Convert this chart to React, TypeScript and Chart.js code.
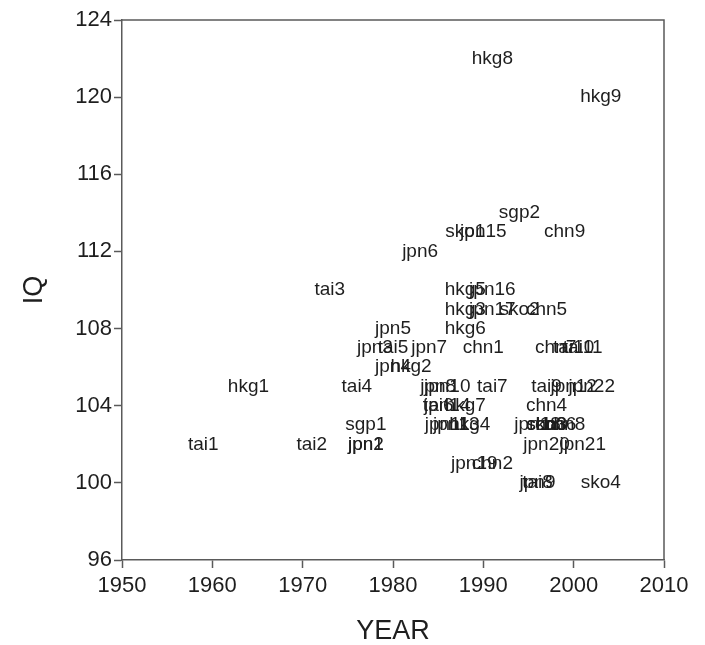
import React, { useEffect, useRef } from 'react';
import { Chart, registerables } from 'chart.js';

Chart.register(...registerables);

// Study labels (country + study number), year of testing and mean IQ
const pointLabels = [
  'tai1', 'hkg1', 'tai2', 'tai3', 'sgp1', 'jpn1', 'jpn2', 'tai4', 'jpn3', 'tai5',
  'jpn4', 'jpn5', 'hkg2', 'jpn6', 'jpn7', 'tai6', 'jpn8', 'jpn10', 'jpn14', 'hkg7',
  'jpn11', 'jpn13', 'hkg4', 'sko1', 'jpn15', 'hkg5', 'jpn16', 'hkg3', 'jpn17', 'hkg6',
  'chn1', 'tai7', 'jpn19', 'chn2', 'hkg8', 'sgp2', 'sko2', 'chn5', 'jpn9', 'tai8',
  'jpn18', 'chn3', 'sko3', 'chn6', 'chn8', 'chn4', 'tai9', 'jpn20', 'chn7', 'tai10',
  'tai11', 'jpn12', 'jpn22', 'jpn21', 'chn9', 'hkg9', 'sko4',
];
const years = [
  1959, 1964, 1971, 1973, 1977, 1977, 1977, 1976, 1978, 1980,
  1980, 1980, 1982, 1983, 1984, 1985, 1985, 1986, 1986, 1988,
  1986, 1987, 1988.5, 1988, 1990, 1988, 1991, 1988, 1991, 1988,
  1990, 1991, 1989, 1991, 1991, 1994, 1994, 1997, 1996, 1996,
  1996, 1997, 1997, 1998, 1999, 1997, 1997, 1997, 1998, 2000,
  2001, 2000, 2002, 2001, 1999, 2003, 2003,
];
const iqs = [
  102, 105, 102, 110, 103, 102, 102, 105, 107, 107,
  106, 108, 106, 112, 107, 104, 105, 105, 104, 104,
  103, 103, 103, 113, 113, 110, 110, 109, 109, 108,
  107, 105, 101, 101, 122, 114, 109, 109, 100, 100,
  103, 103, 103, 103, 103, 104, 105, 102, 107, 107,
  107, 105, 105, 102, 113, 120, 100,
];

const xMin = 1950;
const xMax = 2010;
const xStep = 10;
const yMin = 96;
const yMax = 124;
const yStep = 4;
const xTitle = 'YEAR';
const yTitle = 'IQ';

const AXIS_COLOR = '#5a5a5a';
const TEXT_COLOR = '#1e1e1e';
const FONT_FAMILY = '"Liberation Sans", Arial, Helvetica, sans-serif';

const textLabelPlugin = {
  id: 'textLabels',
  afterDatasetsDraw(chart: any) {
    const ctx = chart.ctx;
    const meta = chart.getDatasetMeta(0);
    ctx.save();
    ctx.font = `19px ${FONT_FAMILY}`;
    ctx.fillStyle = TEXT_COLOR;
    ctx.textAlign = 'center';
    ctx.textBaseline = 'middle';
    meta.data.forEach((pt: any, i: number) => {
      ctx.fillText(pointLabels[i], pt.x, pt.y);
    });
    ctx.restore();
  },
};

const framePlugin = {
  id: 'frame',
  afterDraw(chart: any) {
    const { ctx, chartArea } = chart;
    ctx.save();
    ctx.strokeStyle = AXIS_COLOR;
    ctx.lineWidth = 1.5;
    ctx.beginPath();
    ctx.moveTo(chartArea.left, chartArea.top);
    ctx.lineTo(chartArea.right, chartArea.top);
    ctx.lineTo(chartArea.right, chartArea.bottom);
    ctx.stroke();
    ctx.restore();
  },
};

export default function App() {
  const canvasRef = useRef<HTMLCanvasElement | null>(null);

  useEffect(() => {
    const canvas = canvasRef.current;
    if (!canvas) return;
    const data = years.map((x, i) => ({ x, y: iqs[i] }));
    const chart = new Chart(canvas, {
      type: 'scatter',
      data: {
        datasets: [
          {
            data,
            pointRadius: 0,
            pointHoverRadius: 0,
            backgroundColor: 'transparent',
            borderColor: 'transparent',
          },
        ],
      },
      options: {
        responsive: false,
        animation: false,
        events: [],
        layout: { padding: { top: 20, right: 41, left: 0, bottom: 0 } },
        plugins: {
          legend: { display: false },
          tooltip: { enabled: false },
        },
        scales: {
          x: {
            type: 'linear',
            min: xMin,
            max: xMax,
            afterFit: (scale: any) => {
              scale.height = 85;
            },
            ticks: {
              stepSize: xStep,
              color: TEXT_COLOR,
              font: { size: 22, family: FONT_FAMILY },
              padding: 5,
              maxRotation: 0,
              callback: (v: any) => String(v),
            },
            grid: {
              drawOnChartArea: false,
              tickLength: 8,
              tickColor: AXIS_COLOR,
              tickWidth: 1.5,
            },
            border: { display: true, color: AXIS_COLOR, width: 1.5 },
            title: {
              display: true,
              text: xTitle,
              color: TEXT_COLOR,
              font: { size: 27, family: FONT_FAMILY },
              padding: { top: 0, bottom: -3 },
            },
          },
          y: {
            type: 'linear',
            min: yMin,
            max: yMax,
            afterFit: (scale: any) => {
              scale.width = 122;
            },
            ticks: {
              stepSize: yStep,
              color: TEXT_COLOR,
              font: { size: 22, family: FONT_FAMILY },
              padding: 2,
              callback: (v: any) => String(v),
            },
            grid: {
              drawOnChartArea: false,
              tickLength: 8,
              tickColor: AXIS_COLOR,
              tickWidth: 1.5,
            },
            border: { display: true, color: AXIS_COLOR, width: 1.5 },
            title: {
              display: true,
              text: yTitle,
              color: TEXT_COLOR,
              font: { size: 27, family: FONT_FAMILY },
              padding: { top: 18, bottom: 0 },
            },
          },
        },
      },
      plugins: [textLabelPlugin, framePlugin],
    });
    return () => chart.destroy();
  }, []);

  return (
    <div style={{ position: 'absolute', left: 0, top: 0, width: 705, height: 645, background: '#fff' }}>
      <canvas ref={canvasRef} width={705} height={645} style={{ width: 705, height: 645, display: 'block' }} />
    </div>
  );
}
